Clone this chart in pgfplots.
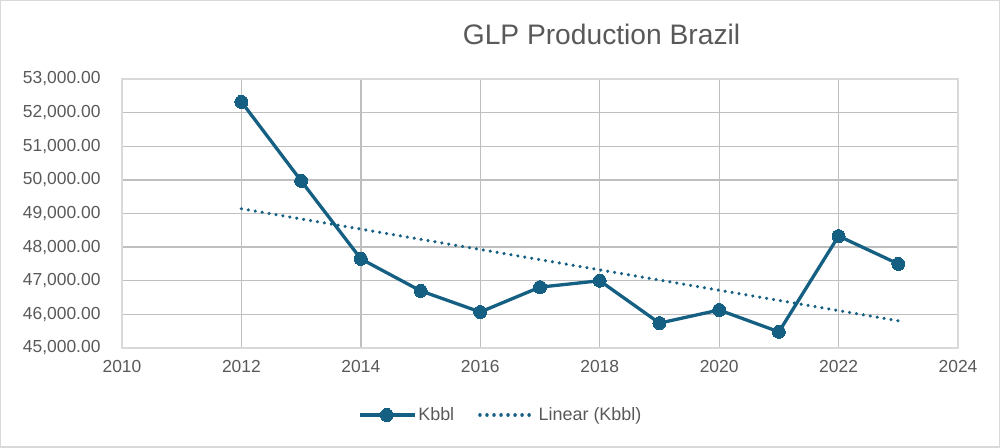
\documentclass[border=0pt]{standalone}
\usepackage{pgfplots}
\pgfplotsset{compat=1.18}
\usepackage{fontspec}
\setmainfont{Liberation Sans}
\definecolor{linec}{HTML}{156082}
\definecolor{txt}{HTML}{595959}
\definecolor{grid}{HTML}{D9D9D9}
\begin{document}
\begin{tikzpicture}[x=1bp,y=1bp]
\draw[grid, line width=1.5bp] (0.75,0.75) rectangle (999.25,447.25);
\node[txt, font=\fontsize{28.3}{32}\selectfont] at (601.5,414) {GLP Production Brazil};
\begin{axis}[
  at={(122bp,100bp)}, anchor=south west,
  scale only axis, width=836bp, height=269bp,
  xmin=2010, xmax=2024, ymin=45000, ymax=53000,
  xtick={2010,2012,...,2024}, ytick={45000,46000,...,53000},
  scaled y ticks=false,
  xticklabel style={/pgf/number format/set thousands separator={}},
  yticklabel style={/pgf/number format/fixed, /pgf/number format/fixed zerofill, /pgf/number format/precision=2, /pgf/number format/1000 sep={,}},
  /pgf/number format/assume math mode=true,
  ticklabel style={txt, font=\fontsize{17.5}{20}\selectfont},
  major tick length=0pt,
  grid=major, major grid style={grid, line width=1.3bp},
  axis line style={grid, line width=1.3bp},
  xticklabel shift=9bp, yticklabel shift=18bp,
  clip=false,
  legend style={at={(0.453,-0.249)}, anchor=center, draw=none, fill=none,
    legend columns=2, font=\fontsize{18}{20}\selectfont, text=txt,
    /tikz/every even column/.append style={column sep=22bp}},
  legend image code/.code={\draw[#1, mark repeat=2, mark phase=2] plot coordinates {(0bp,0bp) (27bp,0bp) (55bp,0bp)};},
]
\addplot[linec, line width=3.3bp, mark=*, mark size=6.5bp, mark options={fill=linec, draw=linec, line width=0pt}] coordinates {
(2012,52320) (2013,49970) (2014,47650) (2015,46700) (2016,46070) (2017,46810)
(2018,47000) (2019,45740) (2020,46130) (2021,45480) (2022,48330) (2023,47500)};
\addlegendentry{Kbbl}
\addplot[linec, line width=3.5bp, dash pattern=on 0.01bp off 7bp, line cap=round, no marks] coordinates {(2012,49141) (2023,45809)};
\addlegendentry{Linear (Kbbl)}
\end{axis}
\end{tikzpicture}
\end{document}
